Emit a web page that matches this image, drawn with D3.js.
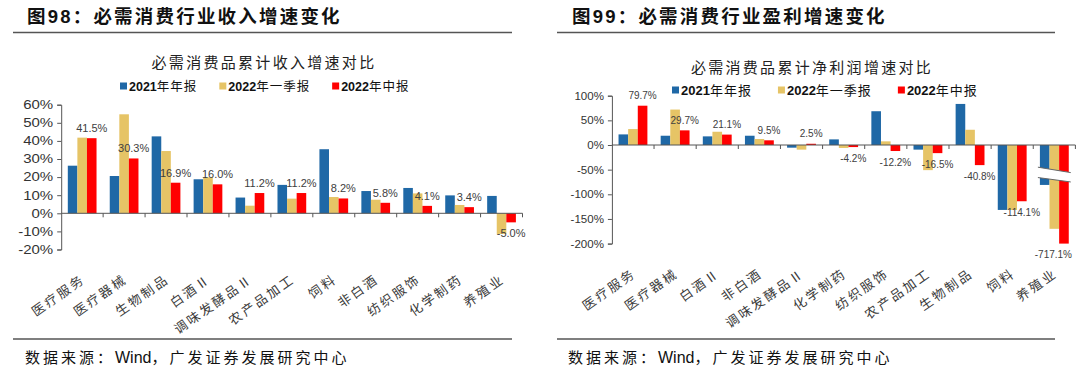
<!DOCTYPE html>
<html><head><meta charset="utf-8">
<script src="https://cdn.jsdelivr.net/npm/d3@7/dist/d3.min.js"></script>
<style>
html,body{margin:0;padding:0;background:#fff;}
svg{display:block;}
</style></head>
<body>
<svg id="c" width="1080" height="372"></svg>
<script>
// ---------- DATA ----------
const seriesNames = ["2021年年报", "2022年一季报", "2022年中报"];
const seriesColors = ["#1f68a6", "#e6c466", "#ff0000"];

const revCategories = ["医疗服务","医疗器械","生物制品","白酒Ⅱ","调味发酵品Ⅱ","农产品加工","饲料","非白酒","纺织服饰","化学制药","养殖业"];
const rev2021   = [26.3, 20.6, 42.5, 18.8, 8.7, 15.7, 35.4, 12.3, 14.0, 9.9, 9.6];
const rev2022Q1 = [41.8, 54.7, 34.4, 19.9, 4.2, 8.1, 9.0, 7.5, 11.0, 4.6, -11.4];
const rev2022H1 = [41.5, 30.3, 16.9, 16.0, 11.2, 11.2, 8.2, 5.8, 4.1, 3.4, -5.0];
const revTicks  = [60, 50, 40, 30, 20, 10, 0, -10, -20];

const profitCategories = ["医疗服务","医疗器械","白酒Ⅱ","非白酒","调味发酵品Ⅱ","化学制药","纺织服饰","农产品加工","生物制品","饲料","养殖业"];
const profit2021   = [21.5, 18.8, 17.5, 18.8, -5.4, 11.4, 68.5, -9.4, 83.3, -131.7, -81.0];
const profit2022Q1 = [32.3, 71.9, 26.9, 12.1, -9.4, -6.0, 7.4, -51.0, 30.9, -131.7, -170.0];
const profit2022H1 = [79.7, 29.7, 21.1, 9.5, 2.5, -4.2, -12.2, -16.5, -40.8, -114.1, -717.1];
const profitTicks  = [100, 50, 0, -50, -100, -150, -200];
const profitBreakCategory = "养殖业";
const profitBreakValues = [-45, -56, -66, -75];

// ---------- LAYOUT ----------
const W = 1080, H = 372;
const LATIN = "'Liberation Sans', Arial, 'Noto Sans CJK SC', sans-serif";
const CJK = "'Liberation Sans', 'Noto Sans CJK SC', sans-serif";
const svg = d3.select("#c");

const panels = [
  {
    header: "图98：必需消费行业收入增速变化",
    title: "必需消费品累计收入增速对比",
    cats: revCategories, series: [rev2021, rev2022Q1, rev2022H1], ticks: revTicks,
    lineX: [13, 512], headerX: 27, footerX: 25,
    px: [61.2, 522.5], py: [104.7, 249.5], domain: [-20, 60],
    titleX: 264, titleY: 62, legendX: 120, legendY: 86, legendGap: 22, legendFont: 12.5,
    valueFont: 11, tickFont: 12, tickStretch: 1.25
  },
  {
    header: "图99：必需消费行业盈利增速变化",
    title: "必需消费品累计净利润增速对比",
    cats: profitCategories, series: [profit2021, profit2022Q1, profit2022H1], ticks: profitTicks,
    lineX: [557, 1055], headerX: 572, footerX: 568,
    px: [611.9, 1075.4], py: [95.7, 243.6], domain: [-200, 100],
    titleX: 812, titleY: 67, legendX: 672, legendY: 90, legendGap: 26, legendFont: 13,
    valueFont: 10, tickFont: 11, tickStretch: 1.05,
    breakCat: profitBreakCategory, breakVals: profitBreakValues
  }
];

panels.forEach(p => {
  const g = svg.append("g");

  // header
  g.append("text").attr("x", p.headerX).attr("y", 23)
    .attr("font-family", CJK).attr("font-weight", 700).attr("font-size", 18.5)
    .attr("letter-spacing", 2.2).attr("fill", "#111").text(p.header);
  g.append("line").attr("x1", p.lineX[0]).attr("x2", p.lineX[1]).attr("y1", 32.5).attr("y2", 32.5)
    .attr("stroke", "#555").attr("stroke-width", 1.3);
  // footer
  g.append("line").attr("x1", p.lineX[0]).attr("x2", p.lineX[1]).attr("y1", 339).attr("y2", 339)
    .attr("stroke", "#555").attr("stroke-width", 1.3);
  const ft = g.append("text").attr("x", p.footerX).attr("y", 362.5)
    .attr("font-family", CJK).attr("font-size", 15).attr("fill", "#111");
  ft.append("tspan").attr("letter-spacing", 3).text("数据来源：");
  ft.append("tspan").attr("font-size", 16).text("Wind");
  ft.append("tspan").attr("letter-spacing", 3).text("，广发证券发展研究中心");

  // chart title
  g.append("text").attr("x", p.titleX).attr("y", p.titleY + 5.5).attr("text-anchor", "middle")
    .attr("font-family", CJK).attr("font-size", 15).attr("letter-spacing", 2.3)
    .attr("fill", "#222").text(p.title);

  // legend
  let lx = p.legendX;
  seriesNames.forEach((name, i) => {
    g.append("rect").attr("x", lx).attr("y", p.legendY - 3.5).attr("width", 7).attr("height", 7)
      .attr("fill", seriesColors[i]);
    const t = g.append("text").attr("x", lx + 9).attr("y", p.legendY + 4.7)
      .attr("font-family", CJK).attr("font-size", p.legendFont).attr("fill", "#111");
    t.append("tspan").attr("font-weight", 700).text(name.slice(0, 4));
    t.append("tspan").attr("letter-spacing", 1).text(name.slice(4));
    lx += 9 + t.node().getComputedTextLength() + p.legendGap;
  });

  // scales
  const x = d3.scaleBand().domain(p.cats).range(p.px).paddingInner(0.315).paddingOuter(0.1575);
  const xs = d3.scaleBand().domain(d3.range(3)).range([0, x.bandwidth()]);
  const y = d3.scaleLinear().domain(p.domain).range([p.py[1], p.py[0]]).clamp(true);
  const y0 = y(0);

  // y axis
  const yAxis = d3.axisLeft(y).tickValues(p.ticks).tickSize(4).tickPadding(3).tickFormat(d => d + "%");
  const ya = g.append("g").attr("transform", `translate(${p.px[0]},0)`).call(yAxis);
  ya.select(".domain").attr("stroke", "#555").attr("stroke-width", 1);
  ya.selectAll(".tick line").attr("stroke", "#555");
  ya.selectAll(".tick text").attr("font-family", LATIN).attr("font-size", p.tickFont).attr("fill", "#333")
    .attr("x", 0).attr("transform", `translate(-8,0) scale(${p.tickStretch},1)`);

  // bars
  p.series.forEach((vals, si) => {
    g.append("g").selectAll("rect").data(p.cats.map((c, i) => ({c, v: vals[i]})))
      .join("rect")
      .attr("x", d => x(d.c) + xs(si))
      .attr("width", xs.bandwidth())
      .attr("y", d => Math.min(y(d.v), y0))
      .attr("height", d => Math.abs(y(d.v) - y0))
      .attr("fill", seriesColors[si]);
  });

  // axis break
  if (p.breakCat) {
    const bx0 = x(p.breakCat) - 2, bx1 = x(p.breakCat) + x.bandwidth() + 2;
    const bv = p.breakVals;
    g.append("polygon")
      .attr("points", [[bx0, y(bv[0])], [bx1, y(bv[1])], [bx1, y(bv[3])], [bx0, y(bv[2])]].map(a => a.join(",")).join(" "))
      .attr("fill", "#fff");
    [[bv[0], bv[1]], [bv[2], bv[3]]].forEach(pr => {
      g.append("line").attr("x1", bx0).attr("y1", y(pr[0])).attr("x2", bx1).attr("y2", y(pr[1]))
        .attr("stroke", "#666").attr("stroke-width", 1);
    });
  }

  // zero line + category ticks
  g.append("line").attr("x1", p.px[0]).attr("x2", p.px[1]).attr("y1", y0).attr("y2", y0)
    .attr("stroke", "#555").attr("stroke-width", 1);
  const step = x.step();
  g.append("g").selectAll("line").data(p.cats).join("line")
    .attr("x1", (d, i) => p.px[0] + step * (i + 1)).attr("x2", (d, i) => p.px[0] + step * (i + 1))
    .attr("y1", y0).attr("y2", y0 + 4).attr("stroke", "#555");

  // value labels on latest series
  const last = p.series[2];
  g.append("g").selectAll("text").data(p.cats.map((c, i) => ({c, v: last[i]})))
    .join("text")
    .attr("font-family", LATIN).attr("font-size", p.valueFont).attr("fill", "#404040")
    .attr("text-anchor", "middle").attr("dominant-baseline", "central")
    .attr("x", d => x(d.c) + xs(2) + xs.bandwidth() / 2)
    .attr("y", d => d.v >= 0 ? y(d.v) - 10 : y(d.v) + 11)
    .text(d => d.v.toFixed(1) + "%")
    .each(function() {
      const w = this.getComputedTextLength();
      const cx = +this.getAttribute("x");
      if (cx + w / 2 > W - 8) this.setAttribute("x", W - 8 - w / 2);
    });

  // category labels
  g.append("g").selectAll("text").data(p.cats).join("text")
    .attr("font-family", CJK).attr("font-size", 13).attr("letter-spacing", 2.4).attr("fill", "#3a3a3a")
    .attr("text-anchor", "end")
    .attr("transform", d => `translate(${x(d) + x.bandwidth() / 2 + 4},${p.py[1] + 32}) rotate(-35)`)
    .text(d => d);
});
</script>
</body></html>
